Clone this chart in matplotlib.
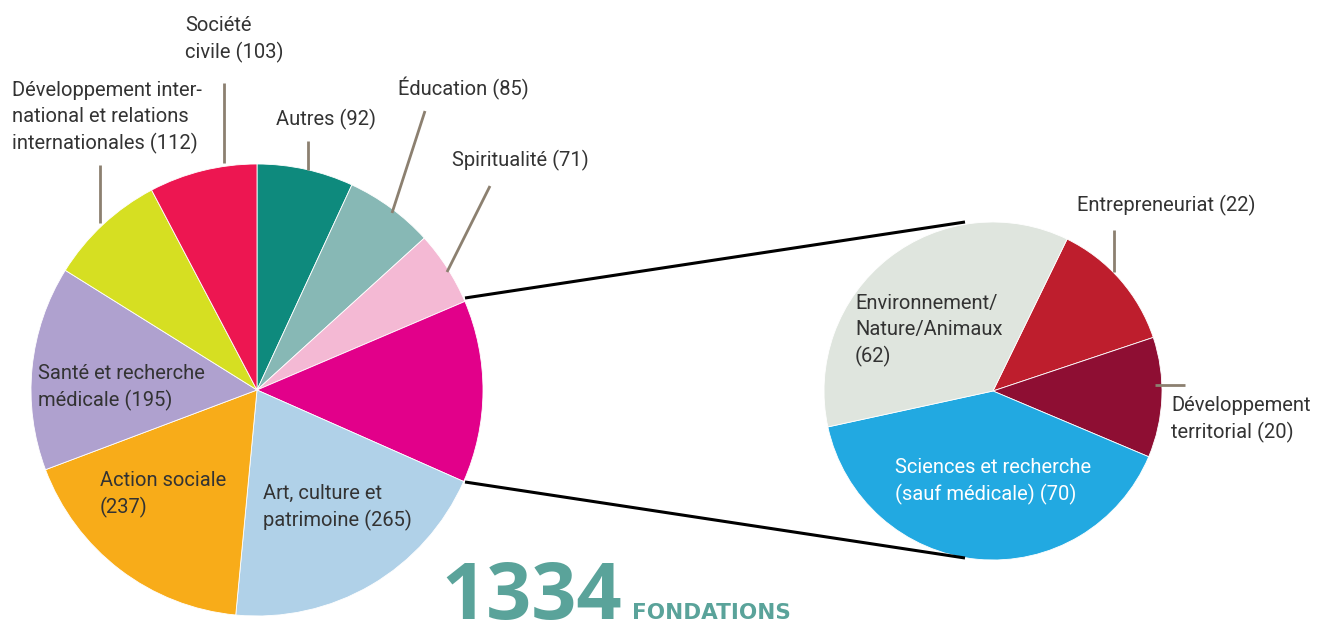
import matplotlib
matplotlib.use('Agg')
import matplotlib.pyplot as plt

# main pie, clockwise from the top
main_labels = ['Autres', 'Éducation', 'Spiritualité', 'Groupe', 'Art, culture et patrimoine',
               'Action sociale', 'Santé et recherche médicale',
               'Développement international et relations internationales', 'Société civile']
main_values = [92, 85, 71, 174, 265, 237, 195, 112, 103]
main_colors = ['#0e8a7d', '#87b8b5', '#f4b9d4', '#e2008a', '#b0d1e8',
               '#f8ac19', '#afa1cf', '#d6df22', '#ed1651']

# detail pie (the magenta slice)
sub_labels = ['Entrepreneuriat', 'Développement territorial',
              'Sciences et recherche (sauf médicale)', 'Environnement/Nature/Animaux']
sub_values = [22, 20, 70, 62]
sub_colors = ['#be1e2d', '#8e0e33', '#22a9e1', '#dfe5de']

total = sum(main_values)

W, H = 1321, 623
fig = plt.figure(figsize=(W / 100, H / 100), dpi=100)
ax = fig.add_axes([0, 0, 1, 1])

def Y(py):
    return H - py

ax.pie(main_values, colors=main_colors, startangle=90, counterclock=False,
       center=(257, Y(390)), radius=226,
       wedgeprops=dict(linewidth=0.6, edgecolor='white'))
ax.pie(sub_values, colors=sub_colors, startangle=64, counterclock=False,
       center=(993, Y(391)), radius=169,
       wedgeprops=dict(linewidth=0.6, edgecolor='white'))

ax.set_xlim(0, W)
ax.set_ylim(0, H)
ax.set_aspect('equal')
ax.axis('off')

# connectors between the two pies
ax.plot([465, 965], [Y(298), Y(222)], color='black', lw=2.2, solid_capstyle='butt')
ax.plot([465, 965], [Y(482), Y(558)], color='black', lw=2.2, solid_capstyle='butt')

lead = '#8c8070'
leaders = [((224, 83), (224, 163)), ((100, 165), (100, 223)), ((308, 141), (308, 170)),
           ((425, 111), (392, 213)), ((490, 186), (447, 272)),
           ((1114, 230), (1114, 272)), ((1155, 385), (1185, 385))]
for (x0, y0), (x1, y1) in leaders:
    ax.plot([x0, x1], [Y(y0), Y(y1)], color=lead, lw=2, solid_capstyle='butt')

fam = 'Roboto'
tc = '#333333'
fs = 14.5
texts = [
    (185, 16, 'Société\ncivile ({})'.format(main_values[8]), tc),
    (12, 81, 'Développement inter-\nnational et relations\ninternationales ({})'.format(main_values[7]), tc),
    (276, 109, 'Autres ({})'.format(main_values[0]), tc),
    (398, 77, 'Éducation ({})'.format(main_values[1]), tc),
    (452, 150, 'Spiritualité ({})'.format(main_values[2]), tc),
    (38, 364, 'Santé et recherche\nmédicale ({})'.format(main_values[6]), tc),
    (100, 471, 'Action sociale\n({})'.format(main_values[5]), tc),
    (263, 484, 'Art, culture et\npatrimoine ({})'.format(main_values[4]), tc),
    (1077, 195, 'Entrepreneuriat ({})'.format(sub_values[0]), tc),
    (855, 294, 'Environnement/\nNature/Animaux\n({})'.format(sub_values[3]), tc),
    (1171, 396, 'Développement\nterritorial ({})'.format(sub_values[1]), tc),
    (895, 458, 'Sciences et recherche\n(sauf médicale) ({})'.format(sub_values[2]), 'white'),
]
for x, y, s, c in texts:
    ax.text(x, Y(y), s, ha='left', va='top', fontsize=fs, family=fam,
            color=c, linespacing=1.45)

teal = '#5aa39a'
ax.text(441, Y(619), str(total), ha='left', va='baseline', fontsize=57,
        family='Open Sans', fontweight='bold', color=teal)
ax.text(632, Y(619), 'FONDATIONS', ha='left', va='baseline', fontsize=15.5,
        family='DejaVu Sans', fontweight='bold', color=teal)

fig.savefig('out.png', dpi=100)
